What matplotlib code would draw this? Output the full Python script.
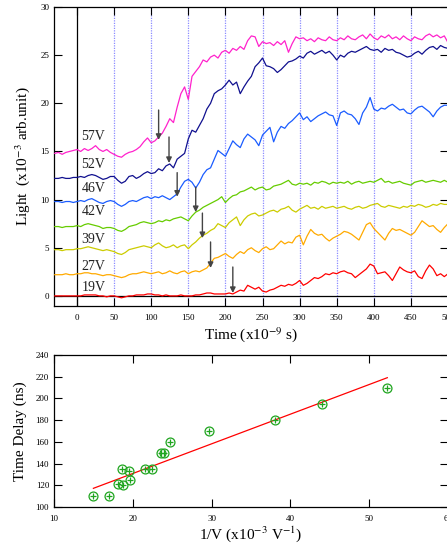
import numpy as np
import matplotlib
matplotlib.use("Agg")
import matplotlib.pyplot as plt

plt.rcParams["font.family"] = ["Liberation Serif", "DejaVu Serif"]
plt.rcParams["mathtext.fontset"] = "stix"

# ---------------------------------------------------------------------------
# Light traces (x1e-3 arb. unit), sampled every 5 ns from -30 to 500 ns
# ---------------------------------------------------------------------------
time_ns = np.arange(-30, 501, 5)

v57 = [14.8, 14.9, 14.7, 14.9, 15.0, 15.1, 15.2, 15.0, 15.3, 15.1,
       15.3, 15.6, 15.2, 15.0, 15.2, 14.9, 14.7, 14.5, 14.4, 14.7,
       14.9, 15.0, 15.2, 15.5, 16.0, 16.4, 15.9, 16.1, 16.5, 16.9,
       17.6, 18.4, 18.0, 19.6, 21.0, 21.7, 20.4, 22.8, 23.3, 23.8,
       24.5, 24.3, 24.8, 25.0, 24.7, 25.3, 25.5, 25.2, 25.7, 25.5,
       25.9, 25.6, 26.5, 27.0, 26.9, 25.9, 26.4, 26.2, 26.3, 26.0,
       26.4, 26.1, 26.5, 25.3, 26.2, 26.9, 26.7, 26.8, 26.5, 26.7,
       26.4, 26.8, 26.6, 26.5, 26.9, 26.6, 26.5, 26.8, 26.6, 27.0,
       26.7, 26.6, 26.9, 27.1, 26.7, 27.2, 26.8, 26.6, 27.0, 26.8,
       27.1, 26.7, 26.9, 26.6, 27.0, 26.7, 26.5, 26.9, 26.7, 26.6,
       27.0, 27.2, 26.9, 27.1, 26.8, 27.0, 26.3]

v52 = [12.2, 12.2, 12.3, 12.2, 12.2, 12.3, 12.3, 12.4, 12.3, 12.5,
       12.6, 12.5, 12.3, 12.1, 12.2, 12.4, 12.4, 12.0, 11.7, 11.9,
       12.4, 12.5, 12.2, 12.4, 12.7, 12.9, 12.7, 12.8, 13.2, 13.0,
       13.5, 13.7, 13.3, 14.2, 14.5, 14.8, 16.3, 17.2, 17.0, 17.7,
       18.4, 19.4, 20.0, 21.0, 21.3, 21.5, 21.9, 22.4, 21.9, 22.2,
       21.0, 21.7, 22.3, 22.8, 23.8, 24.2, 24.7, 23.9, 23.8, 23.6,
       23.2, 23.5, 23.9, 24.3, 24.4, 24.6, 24.9, 24.7, 25.2, 25.4,
       25.1, 25.3, 25.5, 25.2, 25.4, 25.0, 24.5, 25.0, 24.8, 25.2,
       25.4, 25.3, 25.5, 25.7, 25.9, 25.6, 25.5, 25.6, 25.3, 25.7,
       25.5, 25.6, 25.3, 25.2, 25.0, 24.8, 24.9, 25.2, 25.4, 25.1,
       25.5, 25.8, 25.9, 25.6, 26.0, 25.8, 25.7]

v46 = [9.8, 9.8, 9.7, 9.8, 9.8, 9.7, 9.8, 9.9, 9.8, 10.0,
       10.1, 9.9, 9.7, 9.6, 9.8, 9.9, 9.8, 9.5, 9.3, 9.5,
       9.8, 9.9, 9.8, 10.0, 10.2, 10.3, 10.1, 10.3, 10.2, 10.4,
       10.2, 10.0, 10.3, 10.6, 11.3, 11.9, 12.1, 11.8, 11.2, 11.8,
       12.6, 13.1, 13.3, 14.2, 15.1, 14.8, 14.5, 15.3, 16.1, 15.7,
       15.4, 16.3, 16.8, 16.5, 16.2, 15.6, 16.7, 17.1, 17.5, 16.0,
       17.0, 17.6, 17.4, 17.9, 18.2, 18.6, 19.0, 18.3, 18.6, 18.1,
       18.4, 18.7, 18.9, 19.1, 18.8, 18.7, 17.7, 19.0, 19.2, 18.9,
       18.8, 18.4, 17.8, 19.0, 19.6, 20.6, 19.4, 19.2, 19.5, 19.4,
       19.7, 19.9, 19.6, 19.3, 19.4, 19.0, 18.9, 19.3, 19.6, 19.7,
       19.4, 19.1, 18.6, 19.2, 19.6, 19.8, 19.8]

v42 = [7.2, 7.2, 7.1, 7.2, 7.2, 7.2, 7.3, 7.2, 7.4, 7.5,
       7.4, 7.3, 7.2, 7.0, 7.1, 7.1, 7.0, 6.8, 6.7, 6.9,
       7.2, 7.3, 7.4, 7.6, 7.7, 7.6, 7.5, 7.6, 7.8, 7.7,
       7.9, 7.8, 8.0, 8.1, 8.2, 8.0, 7.8, 8.3, 8.7, 8.9,
       9.2, 9.4, 9.6, 9.8, 10.0, 10.3, 9.7, 10.1, 10.4, 10.5,
       10.8, 10.9, 11.1, 11.3, 11.0, 11.2, 11.3, 11.0, 11.1, 11.4,
       11.5, 11.6, 11.8, 12.0, 11.6, 11.5, 11.7, 11.6, 11.7, 11.5,
       11.8, 11.7, 11.9, 11.8, 11.6, 11.8, 11.7, 11.8, 11.7, 11.9,
       11.6, 11.8, 11.9, 11.7, 11.8, 11.9, 11.8, 12.0, 12.2, 11.8,
       11.9, 11.7, 11.8, 11.9, 11.7, 11.6, 11.5, 11.8, 11.9, 12.0,
       11.8, 11.9, 12.0, 11.9, 11.8, 12.0, 11.8]

v39 = [4.8, 4.8, 4.7, 4.8, 4.8, 4.8, 4.9, 4.9, 5.0, 5.1,
       5.0, 4.9, 4.8, 4.7, 4.8, 4.7, 4.6, 4.4, 4.3, 4.5,
       4.8, 4.9, 5.0, 5.1, 5.2, 5.1, 5.0, 5.3, 5.5, 5.2,
       5.0, 5.1, 5.3, 5.0, 5.2, 5.3, 4.9, 5.3, 5.6, 6.0,
       6.3, 6.5, 6.8, 7.0, 7.5, 7.3, 7.1, 7.6, 7.9, 8.2,
       7.3, 7.9, 8.3, 8.5, 8.6, 8.3, 8.4, 8.6, 8.8, 8.9,
       8.7, 9.0, 9.1, 9.3, 8.9, 8.7, 9.0, 9.2, 9.4, 9.1,
       9.2, 9.0, 9.3, 9.1, 9.2, 9.3, 9.1, 9.2, 9.3, 9.1,
       9.0, 9.2, 9.3, 9.1, 9.2, 9.4, 9.5, 9.6, 9.3, 9.2,
       9.4, 9.3, 9.2, 9.1, 9.3, 9.2, 9.4, 9.3, 9.5, 9.4,
       9.2, 9.3, 9.5, 9.4, 9.6, 9.5, 9.5]

v27 = [2.2, 2.2, 2.2, 2.3, 2.2, 2.2, 2.3, 2.3, 2.4, 2.4,
       2.3, 2.3, 2.2, 2.1, 2.2, 2.2, 2.1, 2.0, 1.9, 2.0,
       2.2, 2.3, 2.3, 2.4, 2.5, 2.4, 2.3, 2.4, 2.5, 2.3,
       2.4, 2.6, 2.4, 2.3, 2.5, 2.6, 2.3, 2.5, 2.6, 2.5,
       2.7, 2.9, 3.4, 3.9, 4.0, 4.2, 4.4, 4.1, 3.9, 4.3,
       4.6, 4.4, 4.8, 5.0, 4.7, 4.5, 4.9, 5.1, 4.8, 4.9,
       5.3, 5.7, 5.4, 5.6, 5.5, 6.1, 6.3, 5.3, 6.2, 6.9,
       6.5, 6.3, 6.4, 6.0, 5.7, 6.0, 6.2, 6.4, 6.7, 6.6,
       6.4, 6.1, 5.8, 6.6, 7.4, 7.6, 7.0, 6.6, 6.2, 5.8,
       6.5, 7.0, 6.8, 6.9, 6.7, 6.5, 6.3, 6.6, 7.2, 7.8,
       7.5, 7.2, 7.3, 6.9, 6.6, 7.1, 7.5]

v19 = [0.0, 0.0, 0.0, 0.0, 0.0, 0.0, 0.0, 0.0, 0.1, 0.1,
       0.1, 0.1, 0.0, 0.0, -0.1, 0.0, 0.0, -0.1, -0.2, -0.1,
       0.0, 0.0, 0.1, 0.1, 0.1, 0.2, 0.2, 0.1, 0.1, 0.0,
       0.1, 0.0, 0.0, 0.0, 0.1, 0.0, 0.0, 0.0, 0.1, 0.1,
       0.2, 0.3, 0.3, 0.2, 0.2, 0.2, 0.2, 0.3, 0.2, 0.4,
       0.6, 0.5, 1.1, 0.9, 0.7, 0.9, 0.5, 0.4, 0.6, 0.7,
       0.9, 1.1, 1.0, 1.2, 1.1, 1.3, 1.6, 1.1, 1.3, 1.6,
       1.9, 1.8, 2.0, 2.3, 2.2, 2.4, 2.3, 2.5, 2.6, 2.4,
       2.3, 1.9, 2.2, 2.5, 2.8, 3.3, 3.1, 2.3, 2.4, 2.5,
       2.1, 1.6, 2.3, 3.0, 2.7, 2.5, 2.4, 2.6, 2.0, 1.8,
       2.6, 3.2, 2.8, 2.1, 2.3, 2.0, 2.3]

labels  = ["57V", "52V", "46V", "42V", "39V", "27V", "19V"]
label_y = [16.6, 13.6, 11.2, 8.8, 5.9, 3.0, 0.9]
colors  = ["#ff22cc", "#10108f", "#1a5cff", "#66cc00", "#cccc00", "#ffaa00", "#ff0000"]
traces  = [v57, v52, v46, v42, v39, v27, v19]

# onset arrows: time, top, tip
arrow_t   = [110, 124, 135, 160, 169, 180, 210]
arrow_top = [19.3, 16.5, 12.8, 11.3, 8.6, 5.6, 3.0]
arrow_tip = [16.2, 13.8, 10.3, 8.7, 6.0, 2.9, 0.3]

# ---------------------------------------------------------------------------
# Time delay vs 1/V
# ---------------------------------------------------------------------------
inv_v = [15.0, 17.0, 18.1, 18.6, 18.7, 19.5, 19.6, 21.6, 22.4, 23.6, 23.9,
         24.7, 29.7, 38.0, 44.0, 52.2]
delay = [110, 110, 121, 135, 120, 133, 125, 135, 135, 150, 150,
         160, 170, 180, 195, 210]
fit_x = [15.0, 52.3]
fit_y = [117.2, 219.1]

W, H = 447, 551
fig = plt.figure(figsize=(W / 100, H / 100), dpi=100)

def px_axes(l, t, r, b):
    return fig.add_axes([l / W, 1 - b / H, (r - l) / W, (b - t) / H])

tick_kw = dict(direction="in", length=6, width=0.8, labelsize=6.5,
               top=True, right=True, colors="black")

# --- top panel ---
ax = px_axes(54, 7, 448, 306)
for x in range(50, 500, 50):
    ax.axvline(x, color="#8c8cff", lw=0.9, ls=(0, (1, 1)), zorder=1)
ax.axvline(0, color="black", lw=0.9, zorder=1)
ax.axhline(0, color="black", lw=0.9, zorder=1)
for y, c in zip(traces, colors):
    ax.plot(time_ns, y, color=c, lw=0.9, zorder=3)
for lab, ly in zip(labels, label_y):
    ax.text(6, ly, lab, fontsize=10, va="center", ha="left", color="#222")
for t, y0, y1 in zip(arrow_t, arrow_top, arrow_tip):
    ax.annotate("", xy=(t, y1), xytext=(t, y0),
                arrowprops=dict(arrowstyle="-|>", color="#444", lw=1.0,
                                mutation_scale=8, shrinkA=0, shrinkB=0),
                zorder=5)
ax.set_xlim(-31, 500)
ax.set_ylim(-1.05, 30)
ax.set_xticks(range(0, 501, 50))
ax.set_yticks(range(0, 31, 5))
ax.tick_params(**tick_kw)
ax.tick_params(axis="x", pad=6)
for s in ax.spines.values():
    s.set_linewidth(0.9)
ax.set_xlabel(r"Time (x10$^{-9}$ s)", fontsize=11, labelpad=2)
ax.set_ylabel(r"Light  (x10$^{-3}$ arb.unit)", fontsize=11, labelpad=6)

# --- bottom panel ---
bx = px_axes(54, 355, 448, 507)
bx.plot(fit_x, fit_y, color="red", lw=0.9, zorder=2)
bx.plot(inv_v, delay, ls="none", marker="o", ms=6.4, mfc="none",
        mec="#1fa51f", mew=0.9, zorder=3)
bx.plot(inv_v, delay, ls="none", marker="+", ms=4.5, mec="#1fa51f",
        mew=0.9, zorder=3)
bx.set_xlim(10, 60)
bx.set_ylim(100, 240)
bx.set_xticks(range(10, 61, 10))
bx.set_yticks(range(100, 241, 20))
bx.tick_params(**tick_kw)
bx.tick_params(axis="x", pad=6)
for s in bx.spines.values():
    s.set_linewidth(0.9)
bx.set_xlabel(r"1/V (x10$^{-3}$ V$^{-1}$)", fontsize=11, labelpad=1)
bx.set_ylabel("Time Delay (ns)", fontsize=11, labelpad=6)

fig.savefig("out.png", dpi=100)
